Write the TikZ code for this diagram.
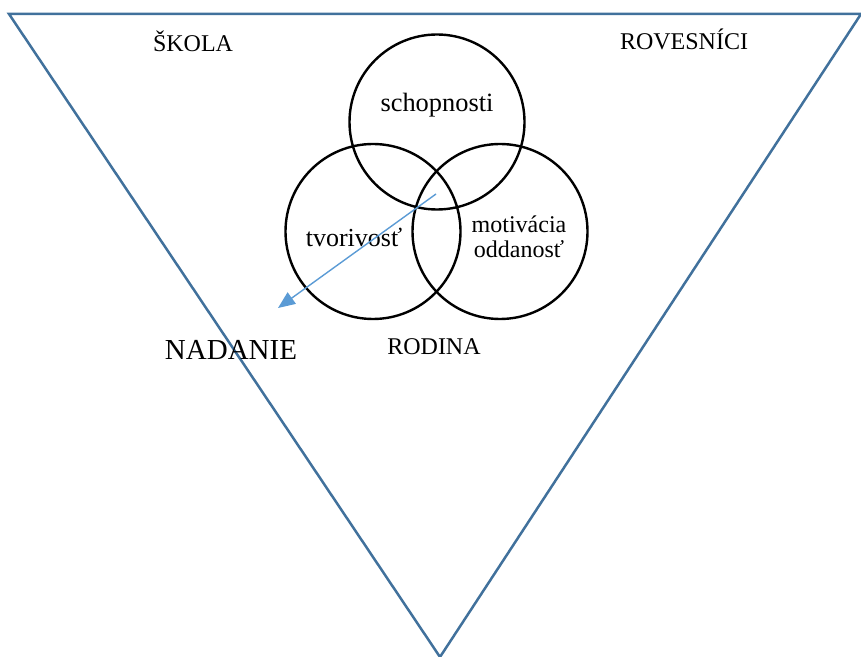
\documentclass[tikz,border=0pt]{standalone}
\usepackage{fontspec}
\setmainfont{Liberation Serif}
\usetikzlibrary{arrows.meta}
\definecolor{frameblue}{RGB}{65,113,156}
\definecolor{arrowblue}{RGB}{91,155,213}
\tikzset{
    venn-circle/.style = {draw=black, circle, line width=1.2pt, minimum size=87.5pt, inner sep=0pt},
    venn-label/.style = {font=\fontsize{12}{12.5}\selectfont, align=center, inner sep=0pt, anchor=base},
    field-label/.style = {font=\fontsize{12}{14}\selectfont, inner sep=0pt, anchor=base},
}

\begin{document}
\begin{tikzpicture}[x=0.5pt, y=-0.5pt]
\useasboundingbox (0,0) rectangle (861,657);
\coordinate (top-left) at (9,14);
\coordinate (top-right) at (861,14);
\coordinate (apex) at (440,657);
\draw[frameblue, line width=1.25pt] (top-left) -- (top-right) -- (apex) -- cycle;

\node [venn-circle] (ability) at (437,122) {};
\node [venn-circle] (creativity) at (373,231.5) {};
\node [venn-circle] (motivation) at (500,231.5) {};

\node [venn-label, font=\fontsize{13.2}{14}\selectfont] (ability-text) at (437,112) {schopnosti};
\node [venn-label, font=\fontsize{13}{14}\selectfont] (creativity-text) at (354,247) {tvorivosť};
\node [venn-label] (motivation-text) at (519,258) {motivácia\\oddanosť};

\node [field-label] (school) at (193,52) {ŠKOLA};
\node [field-label] (peers) at (684,50) {ROVESNÍCI};
\node [field-label] (family) at (434,355) {RODINA};
\node [field-label, font=\fontsize{14.5}{17}\selectfont] (talent) at (231,359) {NADANIE};

\coordinate (arrow-start) at (436,194);
\coordinate (arrow-end) at (278,308);
\draw[arrowblue, line width=0.7pt, -{Triangle[length=8.5pt, width=7pt]}] (arrow-start) -- (arrow-end);
\end{tikzpicture}
\end{document}
